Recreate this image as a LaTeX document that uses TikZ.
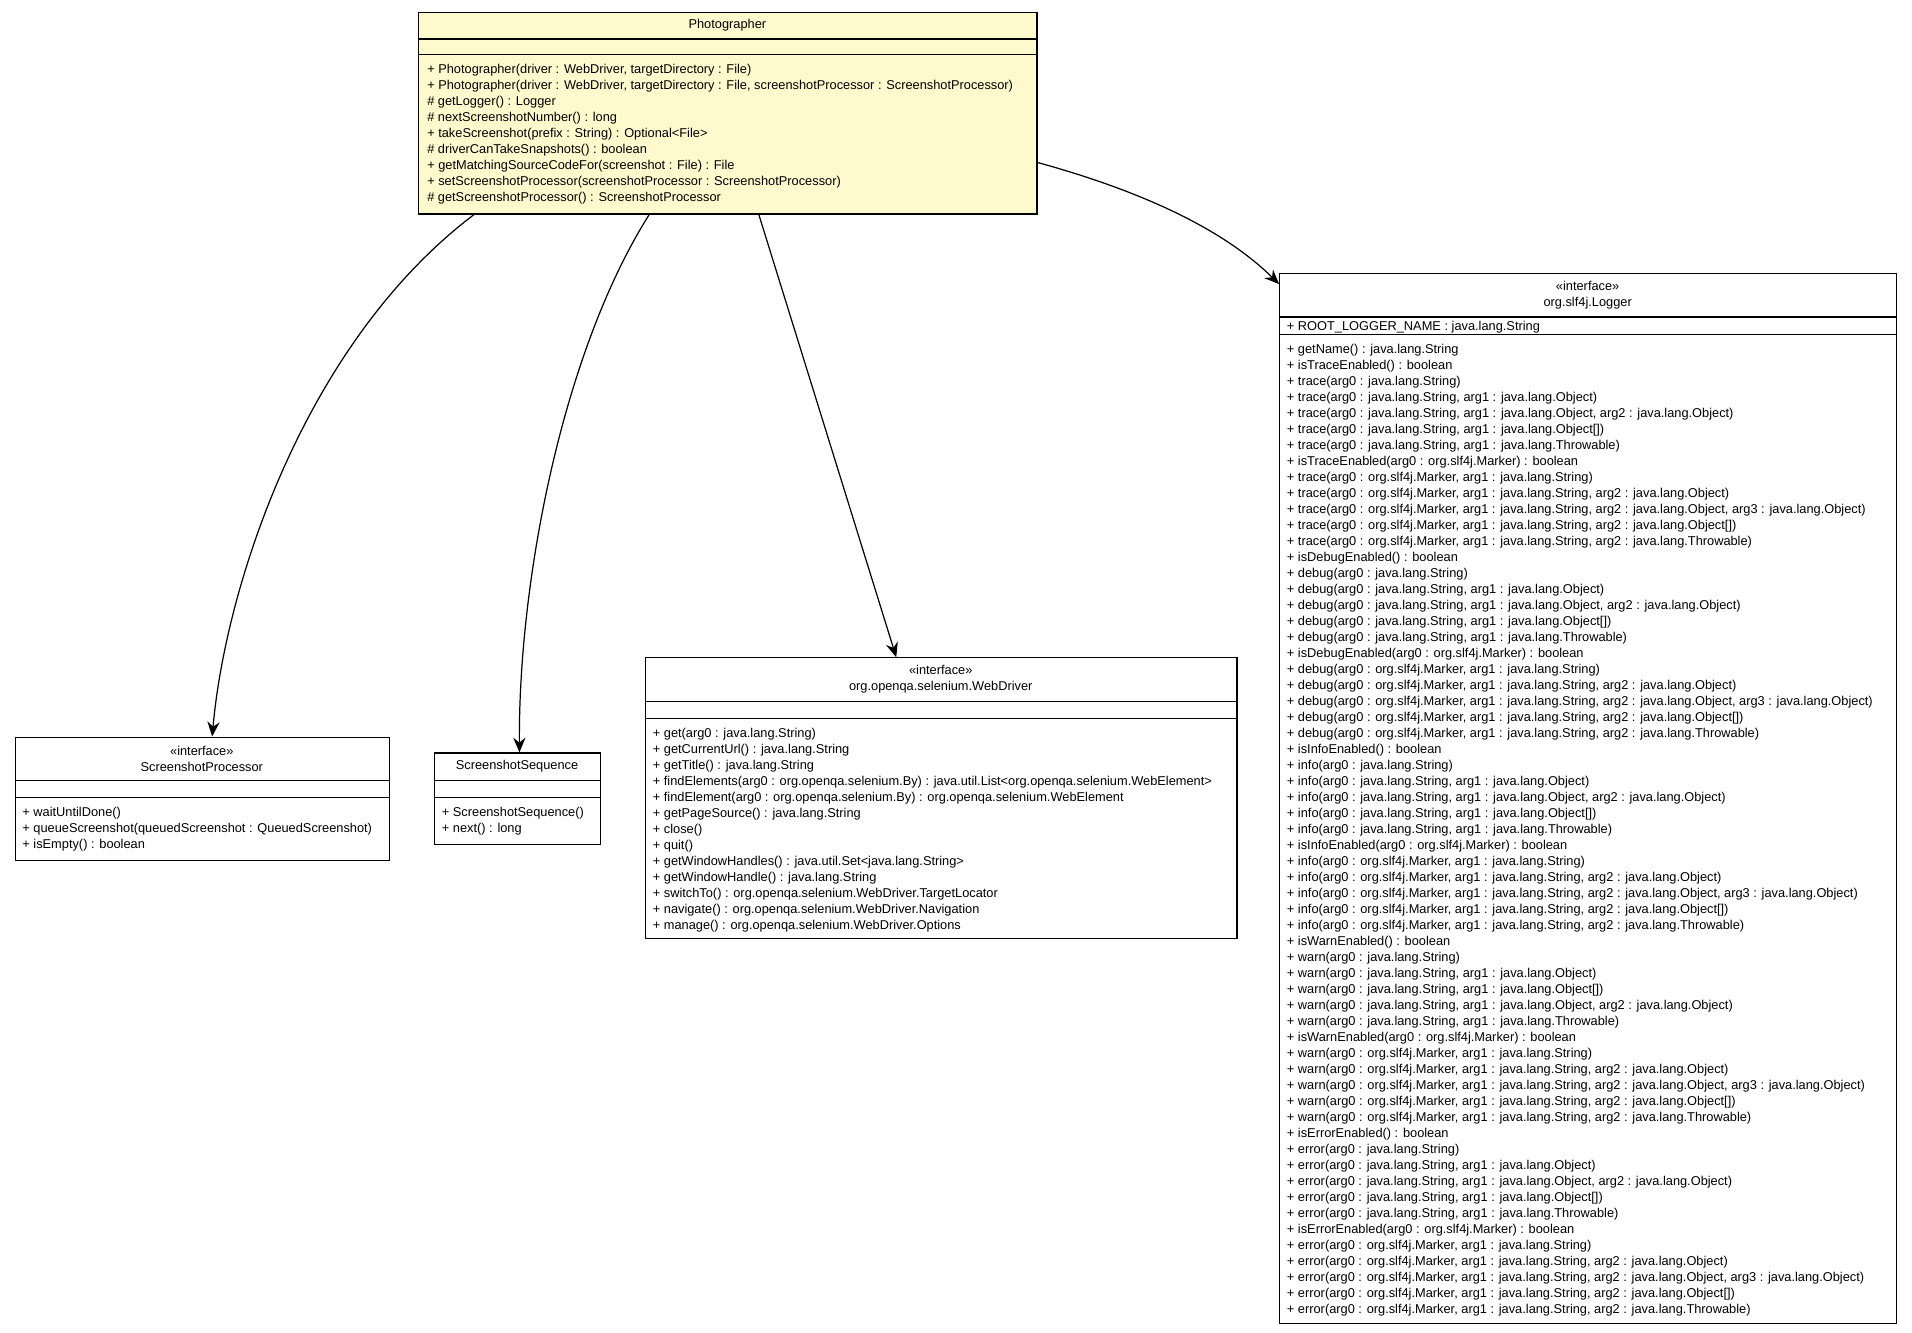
\documentclass[tikz,border=0pt]{standalone}
\usepackage{fontspec}
\setmainfont{Liberation Sans}
\usetikzlibrary{arrows.meta}
\definecolor{noteyellow}{RGB}{255,250,205}
\begin{document}
\begin{tikzpicture}[x=0.5pt,y=-0.5pt,
  box/.style={draw,line width=0.5pt,anchor=north west,inner sep=0},
  sep/.style={line width=0.5pt},
  txt/.style={font=\fontsize{5.25pt}{6.565pt}\selectfont,inner sep=0},
  list/.style={txt,anchor=north west,align=left},
  rel/.style={-{Stealth[length=6pt,width=5pt]},line width=0.5pt}]
\useasboundingbox (0,0) rectangle (1568,1093);
% Photographer
\node[box,fill=noteyellow,minimum width=253.5pt,minimum height=82.5pt] (photo) at (343,10) {};
\draw[sep] (343,32) -- (850,32) (343,45) -- (850,45);
\node[txt] (photoT) at (596.5,21) {Photographer};
\node[list] (photoM) at (350,52.5) {+ Photographer(driver : WebDriver, targetDirectory : File)\\
+ Photographer(driver : WebDriver, targetDirectory : File, screenshotProcessor : ScreenshotProcessor)\\
\# getLogger() : Logger\\
\# nextScreenshotNumber() : long\\
+ takeScreenshot(prefix : String) : Optional<File>\\
\# driverCanTakeSnapshots() : boolean\\
+ getMatchingSourceCodeFor(screenshot : File) : File\\
+ setScreenshotProcessor(screenshotProcessor : ScreenshotProcessor)\\
\# getScreenshotProcessor() : ScreenshotProcessor};
% ScreenshotProcessor
\node[box,minimum width=153.5pt,minimum height=50.5pt] (sp) at (12,604) {};
\draw[sep] (12,640) -- (319,640) (12,654) -- (319,654);
\node[txt,align=center] (spT) at (165.5,622) {«interface»\\ScreenshotProcessor};
\node[list] (spM) at (18,661.5) {+ waitUntilDone()\\
+ queueScreenshot(queuedScreenshot : QueuedScreenshot)\\
+ isEmpty() : boolean};
% ScreenshotSequence
\node[box,minimum width=68pt,minimum height=37.5pt] (ss) at (356,617) {};
\draw[sep] (356,640) -- (492,640) (356,654) -- (492,654);
\node[txt] (ssT) at (424,628) {ScreenshotSequence};
\node[list] (ssM) at (362,661.5) {+ ScreenshotSequence()\\
+ next() : long};
% WebDriver
\node[box,minimum width=242.5pt,minimum height=115pt] (wd) at (529,539) {};
\draw[sep] (529,575) -- (1014,575) (529,589) -- (1014,589);
\node[txt,align=center] (wdT) at (771.5,557) {«interface»\\org.openqa.selenium.WebDriver};
\node[list] (wdM) at (535,596.5) {+ get(arg0 : java.lang.String)\\
+ getCurrentUrl() : java.lang.String\\
+ getTitle() : java.lang.String\\
+ findElements(arg0 : org.openqa.selenium.By) : java.util.List<org.openqa.selenium.WebElement>\\
+ findElement(arg0 : org.openqa.selenium.By) : org.openqa.selenium.WebElement\\
+ getPageSource() : java.lang.String\\
+ close()\\
+ quit()\\
+ getWindowHandles() : java.util.Set<java.lang.String>\\
+ getWindowHandle() : java.lang.String\\
+ switchTo() : org.openqa.selenium.WebDriver.TargetLocator\\
+ navigate() : org.openqa.selenium.WebDriver.Navigation\\
+ manage() : org.openqa.selenium.WebDriver.Options};
% Logger
\node[box,minimum width=253pt,minimum height=430.5pt] (lg) at (1049,224) {};
\draw[sep] (1049,260) -- (1555,260) (1049,274) -- (1555,274);
\node[txt,align=center] (lgT) at (1302,242) {«interface»\\org.slf4j.Logger};
\node[list] (lgA) at (1055,263) {+ ROOT\_LOGGER\_NAME : java.lang.String};
\node[list] (lgM) at (1055,281.5) {+ getName() : java.lang.String\\
+ isTraceEnabled() : boolean\\
+ trace(arg0 : java.lang.String)\\
+ trace(arg0 : java.lang.String, arg1 : java.lang.Object)\\
+ trace(arg0 : java.lang.String, arg1 : java.lang.Object, arg2 : java.lang.Object)\\
+ trace(arg0 : java.lang.String, arg1 : java.lang.Object[])\\
+ trace(arg0 : java.lang.String, arg1 : java.lang.Throwable)\\
+ isTraceEnabled(arg0 : org.slf4j.Marker) : boolean\\
+ trace(arg0 : org.slf4j.Marker, arg1 : java.lang.String)\\
+ trace(arg0 : org.slf4j.Marker, arg1 : java.lang.String, arg2 : java.lang.Object)\\
+ trace(arg0 : org.slf4j.Marker, arg1 : java.lang.String, arg2 : java.lang.Object, arg3 : java.lang.Object)\\
+ trace(arg0 : org.slf4j.Marker, arg1 : java.lang.String, arg2 : java.lang.Object[])\\
+ trace(arg0 : org.slf4j.Marker, arg1 : java.lang.String, arg2 : java.lang.Throwable)\\
+ isDebugEnabled() : boolean\\
+ debug(arg0 : java.lang.String)\\
+ debug(arg0 : java.lang.String, arg1 : java.lang.Object)\\
+ debug(arg0 : java.lang.String, arg1 : java.lang.Object, arg2 : java.lang.Object)\\
+ debug(arg0 : java.lang.String, arg1 : java.lang.Object[])\\
+ debug(arg0 : java.lang.String, arg1 : java.lang.Throwable)\\
+ isDebugEnabled(arg0 : org.slf4j.Marker) : boolean\\
+ debug(arg0 : org.slf4j.Marker, arg1 : java.lang.String)\\
+ debug(arg0 : org.slf4j.Marker, arg1 : java.lang.String, arg2 : java.lang.Object)\\
+ debug(arg0 : org.slf4j.Marker, arg1 : java.lang.String, arg2 : java.lang.Object, arg3 : java.lang.Object)\\
+ debug(arg0 : org.slf4j.Marker, arg1 : java.lang.String, arg2 : java.lang.Object[])\\
+ debug(arg0 : org.slf4j.Marker, arg1 : java.lang.String, arg2 : java.lang.Throwable)\\
+ isInfoEnabled() : boolean\\
+ info(arg0 : java.lang.String)\\
+ info(arg0 : java.lang.String, arg1 : java.lang.Object)\\
+ info(arg0 : java.lang.String, arg1 : java.lang.Object, arg2 : java.lang.Object)\\
+ info(arg0 : java.lang.String, arg1 : java.lang.Object[])\\
+ info(arg0 : java.lang.String, arg1 : java.lang.Throwable)\\
+ isInfoEnabled(arg0 : org.slf4j.Marker) : boolean\\
+ info(arg0 : org.slf4j.Marker, arg1 : java.lang.String)\\
+ info(arg0 : org.slf4j.Marker, arg1 : java.lang.String, arg2 : java.lang.Object)\\
+ info(arg0 : org.slf4j.Marker, arg1 : java.lang.String, arg2 : java.lang.Object, arg3 : java.lang.Object)\\
+ info(arg0 : org.slf4j.Marker, arg1 : java.lang.String, arg2 : java.lang.Object[])\\
+ info(arg0 : org.slf4j.Marker, arg1 : java.lang.String, arg2 : java.lang.Throwable)\\
+ isWarnEnabled() : boolean\\
+ warn(arg0 : java.lang.String)\\
+ warn(arg0 : java.lang.String, arg1 : java.lang.Object)\\
+ warn(arg0 : java.lang.String, arg1 : java.lang.Object[])\\
+ warn(arg0 : java.lang.String, arg1 : java.lang.Object, arg2 : java.lang.Object)\\
+ warn(arg0 : java.lang.String, arg1 : java.lang.Throwable)\\
+ isWarnEnabled(arg0 : org.slf4j.Marker) : boolean\\
+ warn(arg0 : org.slf4j.Marker, arg1 : java.lang.String)\\
+ warn(arg0 : org.slf4j.Marker, arg1 : java.lang.String, arg2 : java.lang.Object)\\
+ warn(arg0 : org.slf4j.Marker, arg1 : java.lang.String, arg2 : java.lang.Object, arg3 : java.lang.Object)\\
+ warn(arg0 : org.slf4j.Marker, arg1 : java.lang.String, arg2 : java.lang.Object[])\\
+ warn(arg0 : org.slf4j.Marker, arg1 : java.lang.String, arg2 : java.lang.Throwable)\\
+ isErrorEnabled() : boolean\\
+ error(arg0 : java.lang.String)\\
+ error(arg0 : java.lang.String, arg1 : java.lang.Object)\\
+ error(arg0 : java.lang.String, arg1 : java.lang.Object, arg2 : java.lang.Object)\\
+ error(arg0 : java.lang.String, arg1 : java.lang.Object[])\\
+ error(arg0 : java.lang.String, arg1 : java.lang.Throwable)\\
+ isErrorEnabled(arg0 : org.slf4j.Marker) : boolean\\
+ error(arg0 : org.slf4j.Marker, arg1 : java.lang.String)\\
+ error(arg0 : org.slf4j.Marker, arg1 : java.lang.String, arg2 : java.lang.Object)\\
+ error(arg0 : org.slf4j.Marker, arg1 : java.lang.String, arg2 : java.lang.Object, arg3 : java.lang.Object)\\
+ error(arg0 : org.slf4j.Marker, arg1 : java.lang.String, arg2 : java.lang.Object[])\\
+ error(arg0 : org.slf4j.Marker, arg1 : java.lang.String, arg2 : java.lang.Throwable)};
% relations
\coordinate (p1) at (390,175);
\coordinate (p2) at (533,175);
\coordinate (p3) at (622,175);
\coordinate (p4) at (850,133);
\coordinate (e1) at (174,604);
\coordinate (e2) at (426,617);
\coordinate (e3) at (735,539);
\coordinate (e4) at (1049,233);
\draw[rel] (p1) .. controls (250,280) and (185,480) .. (e1);
\draw[rel] (p2) .. controls (460,290) and (425,480) .. (e2);
\draw[rel] (p3) -- (e3);
\draw[rel] (p4) .. controls (930,155) and (1000,185) .. (e4);
\end{tikzpicture}
\end{document}
